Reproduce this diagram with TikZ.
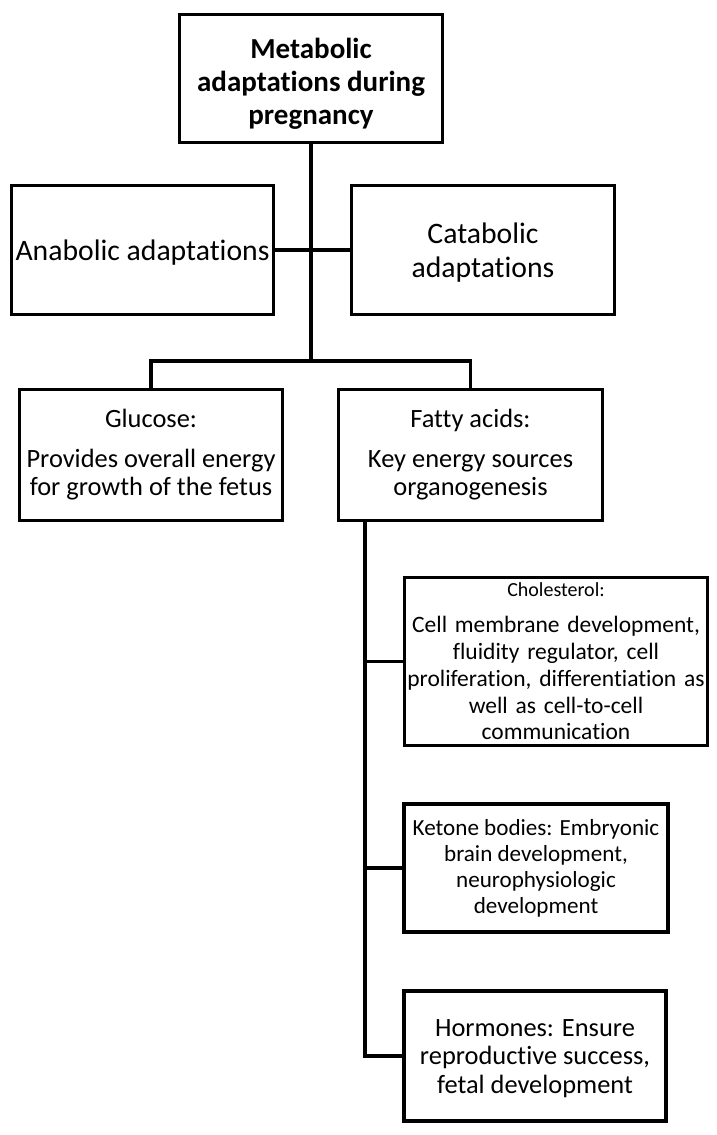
\documentclass[tikz,border=0pt]{standalone}
\usepackage{fontspec}
\setmainfont{Carlito}[Ligatures=NoCommon]
\begin{document}
\begin{tikzpicture}[x=1pt,y=-1pt,
  box/.style={draw=black, line width=3.2pt, inner sep=0pt, align=center,
    font=\fontsize{26.4}{28.5}\selectfont},
  conn/.style={draw=black, line width=3.2pt}]
\useasboundingbox (0,0) rectangle (717,1135);
% boxes
\node[box, minimum width=263pt, minimum height=128pt,
  font=\bfseries\fontsize{29}{33}\selectfont] (top) at (311,78.5)
  {\rule{0pt}{31pt}Metabolic\\adaptations during\\pregnancy};
\node[box, minimum width=262pt, minimum height=129pt,
  font=\fontsize{29.7}{34}\selectfont] (ana) at (142.5,250)
  {\rule{0pt}{25pt}Anabolic adaptations};
\node[box, minimum width=263pt, minimum height=129pt,
  font=\fontsize{29.7}{34}\selectfont] (cat) at (483,250)
  {\rule{0pt}{26pt}Catabolic\\adaptations};
\node[box, minimum width=263pt, minimum height=131pt] (glu) at (151,455)
  {Glucose:\\[11pt]Provides overall energy\\for growth of the fetus};
\node[box, minimum width=264pt, minimum height=131pt] (fat) at (470.5,455)
  {Fatty acids:\\[11pt]Key energy sources\\organogenesis};
\node[box, minimum width=303pt, minimum height=168pt, text width=303pt,
  font=\fontsize{23.5}{26.8}\selectfont] (chol) at (556,661.5)
  {{\fontsize{20}{22}\selectfont Cholesterol:}\\[9pt]Cell membrane development,\\fluidity regulator, cell\\proliferation, differentiation as\\well as cell-to-cell\\communication};
\node[box, minimum width=264pt, minimum height=128pt,
  font=\fontsize{23.1}{26}\selectfont] (ket) at (536,868)
  {Ketone bodies: Embryonic\\brain development,\\neurophysiologic\\development};
\node[box, minimum width=262pt, minimum height=130pt] (horm) at (535,1056)
  {\rule{0pt}{22pt}Hormones: Ensure\\reproductive success,\\fetal development};
% connectors
\coordinate (br) at (311,361);
\coordinate (tk) at (365,522);
\draw[conn] (top.south) -- (br);
\draw[conn] (ana.east) -- (cat.west);
\draw[conn] (glu.north) |- (br) -| (fat.north);
\draw[conn] (tk) |- (horm.west);
\draw[conn] (chol.west) -- (chol.west -| tk);
\draw[conn] (ket.west) -- (ket.west -| tk);
\end{tikzpicture}
\end{document}
